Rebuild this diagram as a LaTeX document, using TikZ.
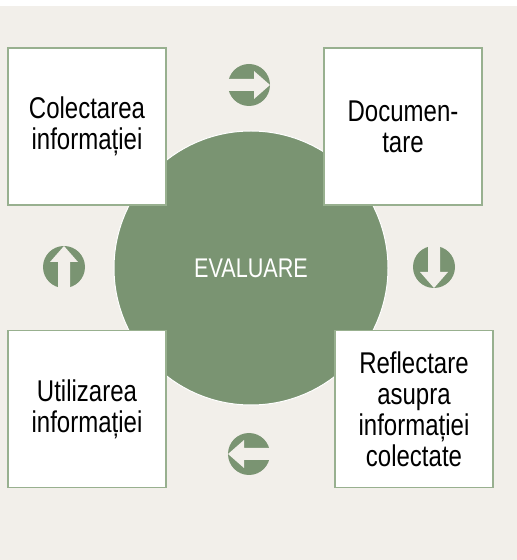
\documentclass[tikz,border=0pt]{standalone}
\usepackage{fontspec}
\setmainfont{Liberation Sans}[FakeStretch=0.8]
\usetikzlibrary{positioning}
\definecolor{sage}{HTML}{7A9472}
\definecolor{sageline}{HTML}{98B08F}
\definecolor{paper}{HTML}{F2EFEA}

\begin{document}
\begin{tikzpicture}[
			x=1pt, y=1pt,
			stage/.style={draw=sageline, line width=1.2pt, fill=white,
				minimum width=158pt, minimum height=157pt, text width=150pt,
				align=center, font={\fontsize{30}{31}\selectfont}},
			core/.style={circle, fill=sage, draw=white, line width=1pt,
				minimum size=274pt, text=white, font={\fontsize{27}{30}\selectfont}},
			turn/.pic={
				\fill[sage] (0,0) circle (21);
				\fill[paper] (-22,-6) -- (5,-6) -- (5,-14) -- (21,0) -- (5,14) -- (5,6) -- (-22,6) -- cycle;
			}
	]
	\useasboundingbox (0,0) rectangle (517,560);
	\fill[paper] (0,0) rectangle (517,554);

	\node[core] (eval) at (251,292) {EVALUARE};

	\node[stage] (collect) at (87,433.5) {Colectarea\\informației};
	\node[stage] (docs) at (403,433.5) {Documen-\\tare};
	\node[stage] (reflect) at (414,151) {Reflectare\\asupra\\informației\\colectate};
	\node[stage] (use) at (87,151) {Utilizarea\\informației};

% >> arrows between the stages
	\pic[rotate=0] (go1) at (249,475) {turn};
	\pic[rotate=-90] (go2) at (434,293) {turn};
	\pic[rotate=180] (go3) at (249,106) {turn};
	\pic[rotate=90] (go4) at (64,293) {turn};
\end{tikzpicture}
\end{document}
